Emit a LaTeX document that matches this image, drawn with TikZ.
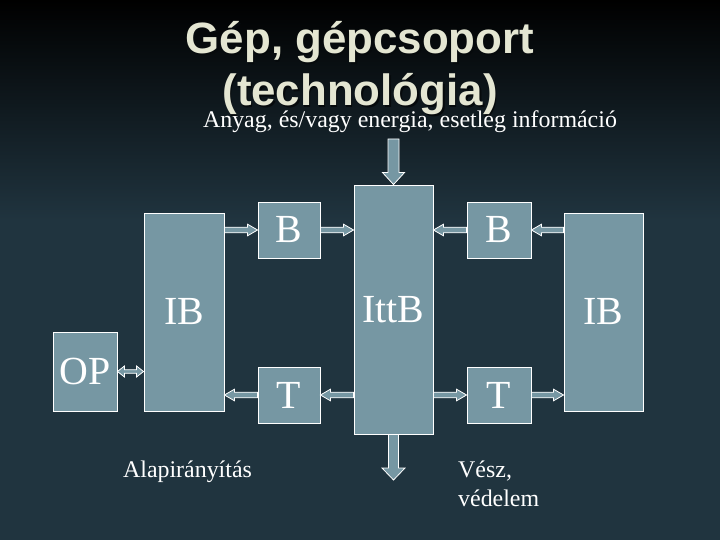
\documentclass[tikz,border=0pt]{standalone}
\usepackage{fontspec}
\setmainfont{Liberation Serif}
\newfontfamily\titlefont{Liberation Sans}
\usetikzlibrary{calc}

\definecolor{slidebg}{HTML}{20343F}
\definecolor{boxfill}{HTML}{7697A3}
\definecolor{titlecol}{HTML}{E4E6D2}

\tikzset{
  blokk/.style={draw=white, line width=0.9bp, fill=boxfill, text=white,
    inner sep=0pt, font=\fontsize{40}{48}\selectfont},
  nyil/.style={draw=white, line width=0.8bp, fill=boxfill},
  felirat/.style={text=white, inner sep=0pt, font=\fontsize{24}{29}\selectfont},
  cim/.style={text=titlecol, inner sep=0pt, font=\titlefont\bfseries\fontsize{44}{52}\selectfont},
  cimarnyek/.style={cim, text=black!80!slidebg}
}

% block arrow: shaft half width, head half width, head length, from, to
\newcommand{\blokknyil}[5]{%
  \filldraw[nyil] let \p1=(#4), \p2=(#5), \n1={veclen(\x2-\x1,\y2-\y1)},
    \n2={(\x2-\x1)/\n1}, \n3={(\y2-\y1)/\n1} in
    ({\x1-\n3*#1},{\y1+\n2*#1}) -- ({\x2-\n2*#3-\n3*#1},{\y2-\n3*#3+\n2*#1})
    -- ({\x2-\n2*#3-\n3*#2},{\y2-\n3*#3+\n2*#2}) -- (\p2)
    -- ({\x2-\n2*#3+\n3*#2},{\y2-\n3*#3-\n2*#2})
    -- ({\x2-\n2*#3+\n3*#1},{\y2-\n3*#3-\n2*#1})
    -- ({\x1+\n3*#1},{\y1-\n2*#1}) -- cycle;}

% same, with a head at both ends
\newcommand{\ketnyil}[5]{%
  \filldraw[nyil] let \p1=(#4), \p2=(#5), \n1={veclen(\x2-\x1,\y2-\y1)},
    \n2={(\x2-\x1)/\n1}, \n3={(\y2-\y1)/\n1} in
    ({\x1+\n2*#3-\n3*#1},{\y1+\n3*#3+\n2*#1})
    -- ({\x2-\n2*#3-\n3*#1},{\y2-\n3*#3+\n2*#1})
    -- ({\x2-\n2*#3-\n3*#2},{\y2-\n3*#3+\n2*#2}) -- (\p2)
    -- ({\x2-\n2*#3+\n3*#2},{\y2-\n3*#3-\n2*#2})
    -- ({\x2-\n2*#3+\n3*#1},{\y2-\n3*#3-\n2*#1})
    -- ({\x1+\n2*#3+\n3*#1},{\y1+\n3*#3-\n2*#1})
    -- ({\x1+\n2*#3+\n3*#2},{\y1+\n3*#3-\n2*#2}) -- (\p1)
    -- ({\x1+\n2*#3-\n3*#2},{\y1+\n3*#3+\n2*#2}) -- cycle;}

\begin{document}
\begin{tikzpicture}[x=1bp, y=-1bp]
  %%%%%%%%%%%%% background
  \useasboundingbox (0,0) rectangle (720,540);
  \fill[slidebg] (0,0) rectangle (720,540);
  \shade[top color=black, bottom color=slidebg] (0,0) rectangle (720,220);
  %%%%%%%%%%%%% title
  \node[cimarnyek, anchor=base] (cim1s) at (361.5,55.5) {Gép, gépcsoport};
  \node[cimarnyek, anchor=base] (cim2s) at (361.5,107.5) {(technológia)};
  \node[cim, anchor=base] (cim1) at (360,54) {Gép, gépcsoport};
  \node[cim, anchor=base] (cim2) at (360,106) {(technológia)};
  \node[felirat, anchor=base] (anyag) at (410,128) {Anyag, és/vagy energia, esetleg információ};
  %%%%%%%%%%%%% blocks
  \node[blokk, minimum width=64bp, minimum height=79bp] (op) at (85,371.5) {OP};
  \node[blokk, minimum width=80bp, minimum height=198bp] (ibl) at (184,312) {IB};
  \node[blokk, minimum width=62bp, minimum height=56bp] (bl) at (289,230) {B};
  \node[blokk, minimum width=62bp, minimum height=56bp] (tl) at (289,395) {T};
  \node[blokk, minimum width=79bp, minimum height=249bp] (itt) at (393.5,309.5) {IttB};
  \node[blokk, minimum width=64bp, minimum height=56bp] (br) at (499,230) {B};
  \node[blokk, minimum width=64bp, minimum height=56bp] (tr) at (499,395) {T};
  \node[blokk, minimum width=79bp, minimum height=198bp] (ibr) at (603.5,312) {IB};
  \coordinate (be) at (393.5,139);
  \coordinate (ki) at (393.5,480);
  %%%%%%%%%%%%% labels
  \node[felirat, anchor=base] (alap) at (187.5,477) {Alapirányítás};
  \node[felirat, anchor=base west, align=left] (vesz) at (458,506) {Vész,\\védelem};
  %%%%%%%%%%%%% arrows
  \blokknyil{5.5bp}{11bp}{12bp}{be}{itt.north}
  \blokknyil{5bp}{11.5bp}{12bp}{itt.south}{ki}
  \blokknyil{2.8bp}{5.8bp}{10bp}{ibl.east |- bl.west}{bl.west}
  \blokknyil{2.8bp}{5.8bp}{10bp}{bl.east}{itt.west |- bl.east}
  \blokknyil{2.8bp}{5.8bp}{10bp}{itt.west |- tl.east}{tl.east}
  \blokknyil{2.8bp}{5.8bp}{10bp}{tl.west}{ibl.east |- tl.west}
  \blokknyil{2.8bp}{5.8bp}{10bp}{ibr.west |- br.east}{br.east}
  \blokknyil{2.8bp}{5.8bp}{10bp}{br.west}{itt.east |- br.west}
  \blokknyil{2.8bp}{5.8bp}{10bp}{itt.east |- tr.west}{tr.west}
  \blokknyil{2.8bp}{5.8bp}{10bp}{tr.east}{ibr.west |- tr.east}
  \ketnyil{1.8bp}{5.5bp}{7bp}{op.east}{op.east -| ibl.west}
\end{tikzpicture}
\end{document}
